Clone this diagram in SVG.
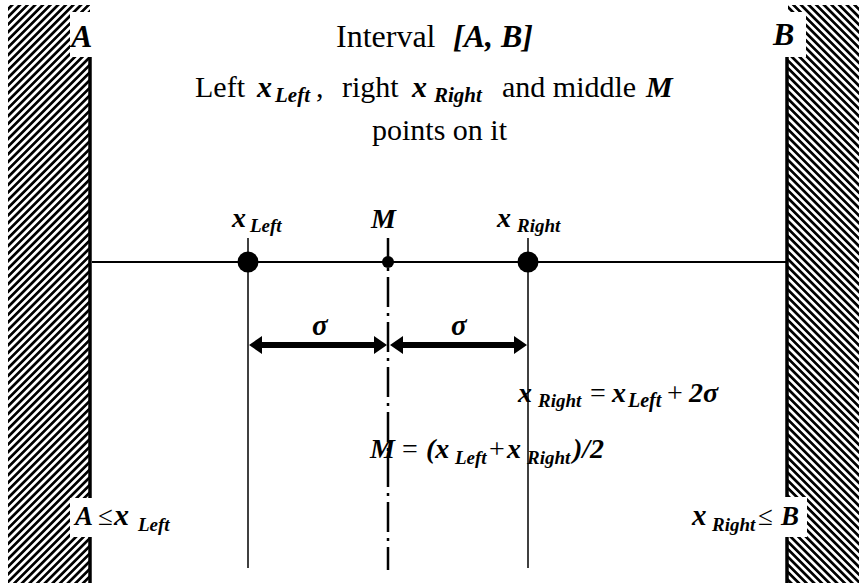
<svg xmlns="http://www.w3.org/2000/svg" width="859" height="583" viewBox="0 0 859 583">
<defs>
<pattern id="hatchL" patternUnits="userSpaceOnUse" width="5.4" height="10" patternTransform="rotate(45)">
<rect x="0" y="0" width="5.4" height="10" fill="#fff"/>
<rect x="0" y="0" width="2.7" height="10" fill="#000"/>
</pattern>
<pattern id="hatchR" patternUnits="userSpaceOnUse" width="5.4" height="10" patternTransform="rotate(-45)">
<rect x="0" y="0" width="5.4" height="10" fill="#fff"/>
<rect x="0" y="0" width="2.7" height="10" fill="#000"/>
</pattern>
</defs>
<style>
text{font-family:"Liberation Serif","Times New Roman",serif;fill:#000}
.r{font-weight:normal;font-style:normal}
.bi{font-weight:bold;font-style:italic}
.thin{stroke:#000;stroke-width:1.5;fill:none}
</style>
<rect x="0" y="0" width="859" height="583" fill="#fff"/>
<g id="wallA">
<rect x="8" y="5" width="82" height="578" fill="url(#hatchL)"/>
<line x1="90" y1="57" x2="90" y2="498" stroke="#000" stroke-width="3.5"/>
<line x1="90" y1="537" x2="90" y2="583" stroke="#000" stroke-width="3.5"/>
<rect x="70" y="12" width="22" height="45" fill="#fff"/>
<rect x="70" y="498" width="22" height="39" fill="#fff"/>
<text class="bi" x="71" y="47" font-size="32">A</text>
</g>
<g id="wallB">
<rect x="788" y="5" width="71" height="578" fill="url(#hatchR)"/>
<line x1="787" y1="57" x2="787" y2="497" stroke="#000" stroke-width="3.5"/>
<line x1="787" y1="537" x2="787" y2="583" stroke="#000" stroke-width="3.5"/>
<rect x="773" y="12" width="33" height="45" fill="#fff"/>
<rect x="785" y="497" width="22" height="40" fill="#fff"/>
<text class="bi" x="773" y="45" font-size="32">B</text>
</g>
<g id="title">
<text x="336" y="47" font-size="32" class="r">Interval <tspan class="bi" x="453">[A, B]</tspan></text>
<text y="97" font-size="30" class="r"><tspan x="195">Left</tspan><tspan class="bi" x="257">x</tspan><tspan class="bi" x="275" y="102" font-size="21">Left</tspan><tspan x="316" y="97">,</tspan><tspan x="342">right</tspan><tspan class="bi" x="412">x</tspan><tspan class="bi" x="434" y="102" font-size="21">Right</tspan><tspan x="502" y="97">and middle</tspan><tspan class="bi" x="646">M</tspan></text>
<text x="372" y="140" font-size="30" class="r">points on it</text>
</g>
<g id="connectors">
<line x1="92" y1="262" x2="787" y2="262" stroke="#000" stroke-width="2"/>
<line class="thin" x1="248" y1="238" x2="248" y2="568"/>
<line class="thin" x1="528" y1="238" x2="528" y2="568"/>
<line x1="388" y1="238" x2="388" y2="570" stroke="#000" stroke-width="2.5" stroke-dasharray="30 6 3 6" stroke-dashoffset="6"/>
<polygon points="249,345 262,336 262,342 374,342 374,336 387,345 374,354 374,348 262,348 262,354" fill="#000"/>
<polygon points="390,345 403,336 403,342 514,342 514,336 527,345 514,354 514,348 403,348 403,354" fill="#000"/>
</g>
<g id="xLeft">
<circle cx="248" cy="262" r="10.5" fill="#000"/>
<text class="bi" x="232" y="227" font-size="28">x<tspan x="250" y="232" font-size="19">Left</tspan></text>
</g>
<g id="M">
<circle cx="388" cy="262" r="6" fill="#000"/>
<text class="bi" x="371" y="228" font-size="28">M</text>
</g>
<g id="xRight">
<circle cx="528" cy="262" r="10.5" fill="#000"/>
<text class="bi" x="497" y="227" font-size="28">x<tspan x="517" y="232" font-size="19">Right</tspan></text>
</g>
<g id="labels">
<text class="bi" x="312" y="335" font-size="29">σ</text>
<text class="bi" x="451" y="335" font-size="29">σ</text>
<text class="bi" y="402" font-size="28"><tspan x="518">x</tspan><tspan x="538" y="407" font-size="19">Right</tspan><tspan x="590" y="402" class="r">=</tspan><tspan x="612">x</tspan><tspan x="628" y="407" font-size="20">Left</tspan><tspan x="667" y="402" class="r">+</tspan><tspan x="689">2σ</tspan></text>
<text class="bi" y="458" font-size="28"><tspan x="370">M</tspan><tspan x="402" class="r">=</tspan><tspan x="426">(x</tspan><tspan x="455" y="464" font-size="19">Left</tspan><tspan x="489" y="458" class="r">+</tspan><tspan x="507">x</tspan><tspan x="527" y="464" font-size="19">Right</tspan><tspan x="573" y="458">)/2</tspan></text>
<text class="bi" y="525" font-size="27"><tspan x="75">A</tspan><tspan x="98" class="r">≤</tspan><tspan x="114" font-size="30">x</tspan><tspan x="138" y="531" font-size="19">Left</tspan></text>
<text class="bi" y="525" font-size="27"><tspan x="692" font-size="29">x</tspan><tspan x="712" y="531" font-size="19">Right</tspan><tspan x="758" y="525" class="r">≤</tspan><tspan x="781">B</tspan></text>
</g>
</svg>
